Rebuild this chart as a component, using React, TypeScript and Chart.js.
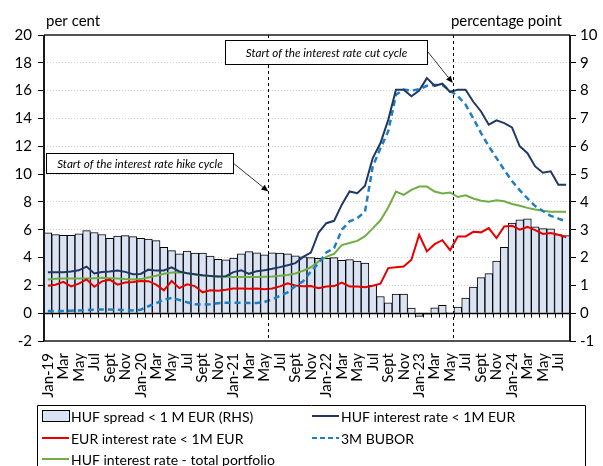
import React, { useEffect, useRef } from 'react';
import { Chart, registerables } from 'chart.js';

Chart.register(...registerables);

const FONT = 'Lato, "Open Sans", sans-serif';

const categories = [
  'Jan-19','Feb-19','Mar-19','Apr-19','May-19','Jun-19','Jul-19','Aug-19','Sep-19','Oct-19','Nov-19','Dec-19',
  'Jan-20','Feb-20','Mar-20','Apr-20','May-20','Jun-20','Jul-20','Aug-20','Sep-20','Oct-20','Nov-20','Dec-20',
  'Jan-21','Feb-21','Mar-21','Apr-21','May-21','Jun-21','Jul-21','Aug-21','Sep-21','Oct-21','Nov-21','Dec-21',
  'Jan-22','Feb-22','Mar-22','Apr-22','May-22','Jun-22','Jul-22','Aug-22','Sep-22','Oct-22','Nov-22','Dec-22',
  'Jan-23','Feb-23','Mar-23','Apr-23','May-23','Jun-23','Jul-23','Aug-23','Sep-23','Oct-23','Nov-23','Dec-23',
  'Jan-24','Feb-24','Mar-24','Apr-24','May-24','Jun-24','Jul-24','Aug-24',
];

const tickLabels = [
  'Jan-19','Mar','May','Jul','Sept','Nov',
  'Jan-20','Mar','May','Jul','Sept','Nov',
  'Jan-21','Mar','May','Jul','Sept','Nov',
  'Jan-22','Mar','May','Jul','Sept','Nov',
  'Jan-23','Mar','May','Jul','Sept','Nov',
  'Jan-24','Mar','May','Jul',
];

// HUF spread < 1M EUR (RHS, percentage point)
const hufSpread = [
  2.89,2.83,2.80,2.80,2.85,2.97,2.90,2.83,2.69,2.77,2.79,2.75,
  2.69,2.66,2.61,2.37,2.25,2.13,2.23,2.16,2.16,2.05,1.94,1.92,
  1.98,2.13,2.21,2.17,2.10,2.17,2.16,2.13,2.06,2.03,2.00,1.97,
  1.97,2.00,1.90,1.93,1.87,1.80,1.00,0.60,0.37,0.69,0.69,0.18,
  -0.12,-0.04,0.19,0.28,0.02,0.22,0.54,0.94,1.28,1.42,1.87,2.37,
  3.24,3.36,3.39,3.10,3.04,3.03,2.83,2.79,
];

// HUF interest rate < 1M EUR (per cent)
const hufRate = [
  2.95,2.95,2.95,3.00,3.08,3.35,2.85,2.96,3.00,3.07,2.97,2.80,
  2.82,3.13,3.06,3.07,3.30,3.00,2.87,2.80,2.72,2.68,2.63,2.66,
  2.95,3.09,2.83,3.02,3.09,3.19,3.31,3.45,3.60,4.05,4.36,5.80,
  6.47,6.64,7.80,8.75,8.63,9.16,11.15,12.23,13.90,16.07,16.07,15.60,
  16.00,16.90,16.35,16.50,15.90,16.07,16.07,15.20,14.50,13.55,13.86,13.67,
  13.36,12.00,11.50,10.55,10.10,10.20,9.23,9.23,
];

// EUR interest rate < 1M EUR (per cent)
const eurRate = [
  1.98,2.05,2.25,1.93,2.12,2.43,1.90,2.29,2.41,2.05,2.21,2.24,
  2.31,2.30,2.05,1.64,2.32,1.80,2.08,1.95,1.50,1.65,1.62,1.69,
  1.78,1.78,1.76,1.77,1.72,1.77,1.93,2.15,1.99,1.94,1.95,1.80,
  1.92,1.95,2.20,1.92,1.92,1.86,1.97,2.12,3.24,3.30,3.36,3.84,
  5.64,4.44,4.96,5.25,4.53,5.52,5.52,5.85,5.81,6.12,5.40,6.24,
  6.29,6.00,6.20,5.97,5.70,5.76,5.64,5.45,
];

// 3M BUBOR (per cent)
const bubor = [
  0.15,0.15,0.16,0.18,0.20,0.22,0.25,0.27,0.26,0.24,0.22,0.20,
  0.25,0.50,0.72,0.98,1.10,0.95,0.78,0.65,0.62,0.65,0.72,0.75,
  0.75,0.75,0.74,0.74,0.80,1.00,1.25,1.50,1.95,2.30,3.00,3.60,
  4.36,4.68,6.00,6.60,6.83,7.30,10.55,11.87,13.07,15.70,16.07,16.00,
  16.10,16.35,16.40,16.40,16.00,15.60,15.00,14.00,12.95,12.00,11.15,10.30,
  9.50,8.85,8.25,7.70,7.35,7.00,6.80,6.60,
];

// HUF interest rate - total portfolio (per cent)
const hufTotal = [
  2.43,2.47,2.50,2.50,2.50,2.50,2.52,2.55,2.52,2.50,2.45,2.42,
  2.45,2.57,2.69,2.83,2.93,2.95,2.88,2.78,2.71,2.68,2.64,2.62,
  2.61,2.61,2.61,2.61,2.62,2.63,2.69,2.75,2.85,3.05,3.30,3.72,
  4.05,4.27,4.90,5.04,5.20,5.54,6.10,6.68,7.60,8.75,8.50,8.87,
  9.10,9.10,8.75,8.60,8.68,8.35,8.47,8.25,8.09,8.02,8.12,8.05,
  7.85,7.73,7.57,7.46,7.37,7.30,7.29,7.29,
];

const COL_BAR = '#DAE3F3';
const COL_NAVY = '#1F3864';
const COL_RED = '#E60000';
const COL_GREEN = '#70AD47';
const COL_BUBOR = '#1F7FC1';

const leftTitle = 'per cent';
const rightTitle = 'percentage point';

// annotation anchors (category index / left-axis value)
const hikeIndex = 28.5;
const cutIndex = 52.35;
const hikeNote = { text: 'Start of the interest rate hike cycle', x0: -0.27, x1: 23.93, yTop: 11.55, yBot: 10.07, fromY: 10.77, tipX: hikeIndex, tipY: 8.75 };
const cutNote = { text: 'Start of the interest rate cut cycle', x0: 22.9, x1: 48.98, yTop: 19.61, yBot: 17.94, fromY: 18.82, tipX: cutIndex, tipY: 16.55 };

const legendItems = [
  { text: 'HUF spread < 1 M EUR (RHS)', kind: 'bar', color: COL_BAR, col: 0, row: 0 },
  { text: 'HUF interest rate < 1M EUR', kind: 'line', color: COL_NAVY, col: 1, row: 0 },
  { text: 'EUR interest rate < 1M EUR', kind: 'line', color: COL_RED, col: 0, row: 1 },
  { text: '3M BUBOR', kind: 'dash', color: COL_BUBOR, col: 1, row: 1 },
  { text: 'HUF interest rate - total portfolio', kind: 'line', color: COL_GREEN, col: 0, row: 2 },
];

function line(ctx: CanvasRenderingContext2D, x1: number, y1: number, x2: number, y2: number) {
  ctx.beginPath();
  ctx.moveTo(x1, y1);
  ctx.lineTo(x2, y2);
  ctx.stroke();
}

function arrow(ctx: CanvasRenderingContext2D, x1: number, y1: number, x2: number, y2: number) {
  ctx.strokeStyle = '#000';
  ctx.fillStyle = '#000';
  ctx.lineWidth = 0.8;
  const ang = Math.atan2(y2 - y1, x2 - x1);
  const len = 7;
  const bx = x2 - len * Math.cos(ang);
  const by = y2 - len * Math.sin(ang);
  line(ctx, x1, y1, bx, by);
  ctx.beginPath();
  ctx.moveTo(x2, y2);
  ctx.lineTo(bx + 3 * Math.sin(ang), by - 3 * Math.cos(ang));
  ctx.lineTo(bx - 3 * Math.sin(ang), by + 3 * Math.cos(ang));
  ctx.closePath();
  ctx.fill();
}

const overlayPlugin = {
  id: 'overlay',
  afterDraw(chart: any) {
    const { ctx, chartArea: a, scales } = chart;
    const xs = scales.x;
    const ys = scales.y;
    ctx.save();

    // vertical dashed markers
    ctx.strokeStyle = '#000';
    ctx.lineWidth = 1;
    ctx.setLineDash([3, 3]);
    for (const idx of [hikeIndex, cutIndex]) {
      const px = Math.round(xs.getPixelForValue(idx)) + 0.5;
      line(ctx, px, a.top, px, a.bottom);
    }
    ctx.setLineDash([]);

    // zero axis with category ticks
    const y0 = Math.round(ys.getPixelForValue(0)) + 0.5;
    ctx.strokeStyle = '#000';
    ctx.lineWidth = 1.3;
    line(ctx, a.left, y0, a.right, y0);
    ctx.lineWidth = 1;
    for (let k = 0; k <= categories.length; k++) {
      const px = Math.round(xs.getPixelForValue(k - 0.5)) + 0.5;
      line(ctx, px, y0, px, y0 + 4);
    }

    // frame
    ctx.strokeStyle = '#1a1a1a';
    ctx.lineWidth = 1.5;
    line(ctx, a.left, a.top, a.right, a.top);
    line(ctx, a.left, a.bottom, a.right, a.bottom);
    ctx.lineWidth = 2;
    line(ctx, a.left, a.top, a.left, a.bottom);
    line(ctx, a.right, a.top, a.right, a.bottom);

    // axis titles
    ctx.fillStyle = '#000';
    ctx.font = `15px ${FONT}`;
    ctx.textBaseline = 'alphabetic';
    ctx.textAlign = 'left';
    ctx.fillText(leftTitle, a.left + 2, 26);
    ctx.textAlign = 'right';
    ctx.fillText(rightTitle, a.right - 8, 26);

    // annotation boxes
    for (const n of [hikeNote, cutNote]) {
      const bx0 = Math.round(xs.getPixelForValue(n.x0)) + 0.5;
      const bx1 = Math.round(xs.getPixelForValue(n.x1)) + 0.5;
      const by0 = Math.round(ys.getPixelForValue(n.yTop)) + 0.5;
      const by1 = Math.round(ys.getPixelForValue(n.yBot)) + 0.5;
      ctx.fillStyle = '#fff';
      ctx.fillRect(bx0, by0, bx1 - bx0, by1 - by0);
      ctx.strokeStyle = '#000';
      ctx.lineWidth = 1;
      ctx.strokeRect(bx0, by0, bx1 - bx0, by1 - by0);
      ctx.fillStyle = '#000';
      ctx.font = `italic 11.7px ${FONT}`;
      ctx.textAlign = 'center';
      ctx.textBaseline = 'middle';
      ctx.fillText(n.text, (bx0 + bx1) / 2, (by0 + by1) / 2 + 0.5);
      arrow(ctx, bx1, ys.getPixelForValue(n.fromY), xs.getPixelForValue(n.tipX), ys.getPixelForValue(n.tipY));
    }

    // legend
    const lgTop = 405.5;
    ctx.strokeStyle = '#000';
    ctx.lineWidth = 1;
    ctx.beginPath();
    ctx.moveTo(37.5, 470);
    ctx.lineTo(37.5, lgTop);
    ctx.lineTo(585.5, lgTop);
    ctx.lineTo(585.5, 470);
    ctx.stroke();
    const colX = [42, 312];
    const rowY = [416, 438, 459];
    ctx.font = `14px ${FONT}`;
    ctx.textAlign = 'left';
    ctx.textBaseline = 'middle';
    for (const it of legendItems) {
      const sx = colX[it.col];
      const cy = rowY[it.row];
      if (it.kind === 'bar') {
        ctx.fillStyle = it.color;
        ctx.fillRect(sx + 0.5, cy - 5.5, 27, 11);
        ctx.strokeStyle = '#000';
        ctx.lineWidth = 1;
        ctx.strokeRect(sx + 0.5, cy - 5.5, 27, 11);
      } else {
        ctx.strokeStyle = it.color;
        ctx.lineWidth = 2;
        if (it.kind === 'dash') ctx.setLineDash([5, 3]);
        line(ctx, sx, cy, sx + 27, cy);
        ctx.setLineDash([]);
      }
      ctx.fillStyle = '#000';
      ctx.fillText(it.text, sx + 29, cy + 1);
    }

    ctx.restore();
  },
};

export default function App() {
  const ref = useRef<HTMLCanvasElement | null>(null);

  useEffect(() => {
    if (!ref.current) return;
    const tickFont = { family: FONT, size: 15 };
    const chart = new Chart(ref.current, {
      type: 'bar',
      data: {
        labels: categories,
        datasets: [
          {
            type: 'line', label: 'HUF interest rate < 1M EUR', data: hufRate, yAxisID: 'y',
            borderColor: COL_NAVY, borderWidth: 2, pointRadius: 0, tension: 0, order: 1,
          },
          {
            type: 'line', label: '3M BUBOR', data: bubor, yAxisID: 'y',
            borderColor: COL_BUBOR, borderWidth: 2.5, borderDash: [6, 4], pointRadius: 0, tension: 0, order: 2,
          },
          {
            type: 'line', label: 'EUR interest rate < 1M EUR', data: eurRate, yAxisID: 'y',
            borderColor: COL_RED, borderWidth: 2, pointRadius: 0, tension: 0, order: 3,
          },
          {
            type: 'line', label: 'HUF interest rate - total portfolio', data: hufTotal, yAxisID: 'y',
            borderColor: COL_GREEN, borderWidth: 2, pointRadius: 0, tension: 0, order: 4,
          },
          {
            type: 'bar', label: 'HUF spread < 1 M EUR (RHS)', data: hufSpread, yAxisID: 'y1',
            backgroundColor: COL_BAR, borderColor: '#000', borderWidth: 1,
            barPercentage: 1, categoryPercentage: 1, order: 5,
          },
        ],
      } as any,
      options: {
        responsive: false,
        animation: false,
        devicePixelRatio: 1,
        layout: { padding: { top: 35, left: 0, right: 0, bottom: 0 } },
        plugins: { legend: { display: false }, tooltip: { enabled: false } },
        scales: {
          x: {
            grid: { display: false },
            border: { display: false },
            ticks: {
              autoSkip: false, minRotation: 90, maxRotation: 90, padding: 4,
              font: tickFont, color: '#000',
              callback: (_v: any, i: number) => (i % 2 === 0 ? tickLabels[i / 2] : ''),
            },
            afterFit: (s: any) => { s.height = 125; },
          },
          y: {
            position: 'left', min: -2, max: 20,
            ticks: { stepSize: 2, font: tickFont, color: '#000', padding: 6 },
            grid: {
              color: (c: any) => (c.tick && (c.tick.value === 0 || c.tick.value === 20 || c.tick.value === -2) ? 'rgba(0,0,0,0)' : '#d0d0d0'),
              tickColor: '#000', tickLength: 6, lineWidth: 1,
            },
            border: { display: false, dash: [1, 2] },
            afterFit: (s: any) => { s.width = 44; },
          },
          y1: {
            position: 'right', min: -1, max: 10,
            ticks: { stepSize: 1, font: tickFont, color: '#000', padding: 4 },
            grid: { drawOnChartArea: false, tickColor: '#000', tickLength: 6 },
            border: { display: false },
            afterFit: (s: any) => { s.width = 33; },
          },
        },
      } as any,
      plugins: [overlayPlugin],
    });
    return () => chart.destroy();
  }, []);

  return (
    <div style={{ position: 'fixed', left: 0, top: 0, width: 603, height: 466, background: '#fff', overflow: 'hidden' }}>
      <canvas ref={ref} width={603} height={466} style={{ display: 'block' }} />
    </div>
  );
}
